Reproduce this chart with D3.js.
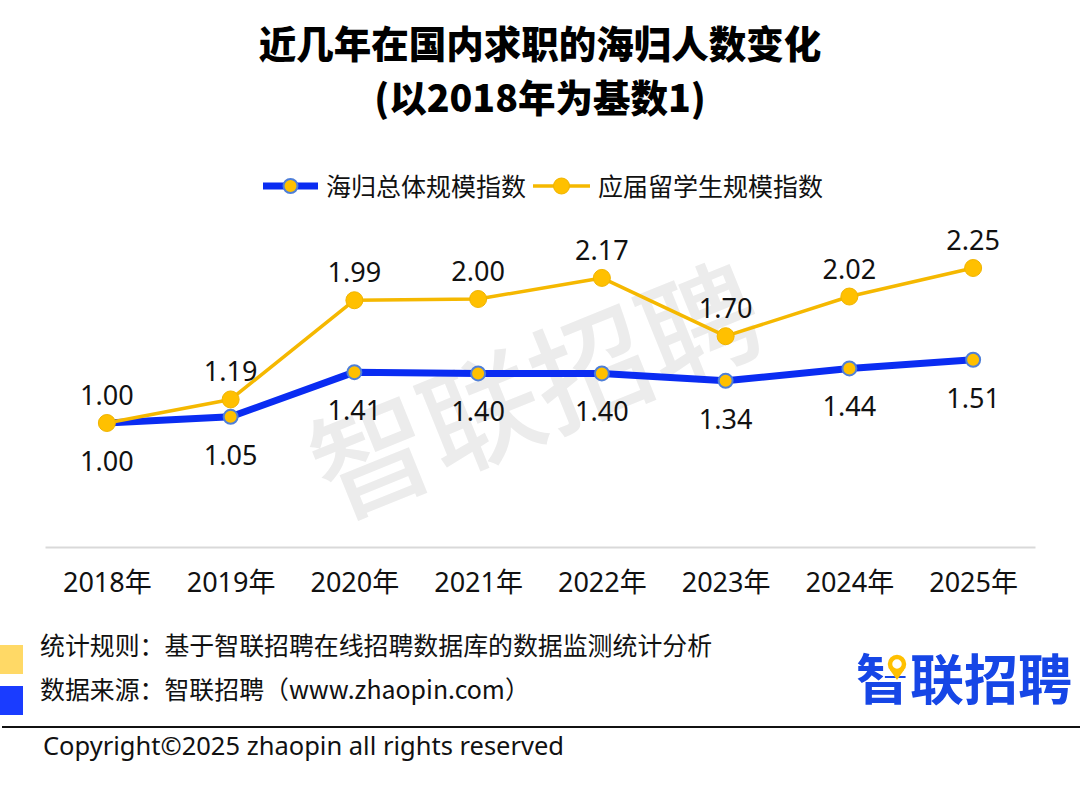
<!DOCTYPE html>
<html>
<head>
<meta charset="utf-8">
<script src="https://cdn.jsdelivr.net/npm/d3@7"></script>
<style>
  html, body { margin: 0; padding: 0; background: #fff; }
  svg { display: block; }
  text { font-family: "Noto Sans", "Noto Sans CJK SC", sans-serif; }
</style>
</head>
<body>
<svg id="chart" width="1080" height="789"></svg>
<script>
const titleLines = ["近几年在国内求职的海归人数变化", "(以2018年为基数1)"];
const years = ["2018年", "2019年", "2020年", "2021年", "2022年", "2023年", "2024年", "2025年"];
const seriesNames = ["海归总体规模指数", "应届留学生规模指数"];
const overallIndex = [1.00, 1.05, 1.41, 1.40, 1.40, 1.34, 1.44, 1.51];
const graduateIndex = [1.00, 1.19, 1.99, 2.00, 2.17, 1.70, 2.02, 2.25];
const footnotes = ["统计规则：基于智联招聘在线招聘数据库的数据监测统计分析", "数据来源：智联招聘（www.zhaopin.com）"];
const copyright = "Copyright©2025 zhaopin all rights reserved";
const brand = "智联招聘";

const W = 1080, H = 789;
const svg = d3.select("#chart");

const BLUE = "#0a2cf2", YELLOW = "#f5b800", MARK = "#ffc000";

// Title
svg.selectAll("text.title").data(titleLines).join("text")
  .attr("class", "title")
  .attr("x", W / 2)
  .attr("y", (d, i) => 58 + i * 54)
  .attr("text-anchor", "middle")
  .style("font-family", "'Noto Sans CJK SC', sans-serif")
  .style("font-weight", 900)
  .style("font-size", "37.5px")
  .attr("fill", "#000")
  .text(d => d);

// Scales
const x = d3.scalePoint().domain(years).range([45, 1035]).padding(0.5);
const y = d3.scaleLinear().domain([0, 2.5]).range([547, 237]);

// Watermark
svg.append("text")
  .attr("transform", "translate(536,390) rotate(-22)")
  .attr("text-anchor", "middle")
  .attr("dy", "0.38em")
  .style("font-family", "'Noto Sans CJK SC', sans-serif")
  .style("font-weight", 500)
  .style("font-size", "118px")
  .attr("fill", "#ececec")
  .text(brand);

// Axis
const axis = svg.append("g")
  .attr("transform", `translate(0,${y(0)})`)
  .call(d3.axisBottom(x).tickSize(0).tickPadding(26));
axis.select(".domain").attr("stroke", "#d9d9d9").attr("stroke-width", 2);
axis.selectAll(".tick text")
  .style("font-family", "'Noto Sans', 'Noto Sans CJK SC', sans-serif")
  .style("font-size", "27px")
  .attr("fill", "#111");

// Lines
const line = d3.line().x((d, i) => x(years[i])).y(d => y(d));

svg.append("path").datum(overallIndex)
  .attr("d", line).attr("fill", "none")
  .attr("stroke", BLUE).attr("stroke-width", 7)
  .attr("stroke-linejoin", "round");

svg.append("g").selectAll("circle").data(overallIndex).join("circle")
  .attr("cx", (d, i) => x(years[i])).attr("cy", d => y(d))
  .attr("r", 7).attr("fill", MARK)
  .attr("stroke", "#4f7fd8").attr("stroke-width", 2);

svg.append("path").datum(graduateIndex)
  .attr("d", line).attr("fill", "none")
  .attr("stroke", YELLOW).attr("stroke-width", 3.5)
  .attr("stroke-linejoin", "round");

svg.append("g").selectAll("circle").data(graduateIndex).join("circle")
  .attr("cx", (d, i) => x(years[i])).attr("cy", d => y(d))
  .attr("r", 8.5).attr("fill", MARK)
  .attr("stroke", "#f0b400").attr("stroke-width", 1);

// Data labels
svg.append("g").selectAll("text").data(graduateIndex).join("text")
  .attr("x", (d, i) => x(years[i])).attr("y", d => y(d) - 18)
  .attr("text-anchor", "middle")
  .style("font-size", "27px").attr("fill", "#111")
  .text(d => d.toFixed(2));

svg.append("g").selectAll("text").data(overallIndex).join("text")
  .attr("x", (d, i) => x(years[i])).attr("y", d => y(d) + 48)
  .attr("text-anchor", "middle")
  .style("font-size", "27px").attr("fill", "#111")
  .text(d => d.toFixed(2));

// Legend
const legend = [
  { name: seriesNames[0], color: BLUE, width: 7, x0: 263, x1: 318, r: 7, stroke: "#4f7fd8", sw: 2 },
  { name: seriesNames[1], color: YELLOW, width: 3.5, x0: 533, x1: 590, r: 8, stroke: "#f0b400", sw: 1 }
];
const lg = svg.append("g").selectAll("g").data(legend).join("g");
lg.append("line")
  .attr("x1", d => d.x0).attr("x2", d => d.x1).attr("y1", 186).attr("y2", 186)
  .attr("stroke", d => d.color).attr("stroke-width", d => d.width);
lg.append("circle")
  .attr("cx", d => (d.x0 + d.x1) / 2).attr("cy", 186).attr("r", d => d.r)
  .attr("fill", MARK).attr("stroke", d => d.stroke).attr("stroke-width", d => d.sw);
lg.append("text")
  .attr("x", d => d.x1 + 8).attr("y", 195.5)
  .style("font-family", "'Noto Sans CJK SC', sans-serif")
  .style("font-size", "25px").attr("fill", "#111")
  .text(d => d.name);

// Footer
const swatches = ["#ffd966", "#1a3cff"];
svg.append("g").selectAll("rect").data(swatches).join("rect")
  .attr("x", 0).attr("y", (d, i) => 645 + i * 41)
  .attr("width", 23).attr("height", 29).attr("fill", d => d);

svg.append("g").selectAll("text").data(footnotes).join("text")
  .attr("x", 40).attr("y", (d, i) => 655 + i * 44)
  .style("font-family", "'Noto Sans CJK SC', sans-serif")
  .style("font-size", "24.9px").attr("fill", "#111")
  .text(d => d);

svg.append("line").attr("x1", 2).attr("x2", W).attr("y1", 727).attr("y2", 727)
  .attr("stroke", "#111").attr("stroke-width", 2);

svg.append("text").attr("x", 43).attr("y", 755)
  .style("font-size", "25.5px").attr("fill", "#111")
  .text(copyright);

// Brand logo
const logo = svg.append("g");
logo.append("text").attr("x", 856).attr("y", 700)
  .style("font-family", "'Noto Sans CJK SC', sans-serif")
  .style("font-weight", 700).style("font-size", "54px")
  .attr("fill", "#1646e6")
  .text(brand);
// location pin replacing the top-right part of the first glyph
logo.append("rect").attr("x", 884).attr("y", 651).attr("width", 25).attr("height", 25).attr("fill", "#fff");
logo.append("path")
  .attr("d", "M897,680 L890,670 L904,670 Z")
  .attr("fill", "#ffc000");
logo.append("circle").attr("cx", 897).attr("cy", 664).attr("r", 7)
  .attr("fill", "#fff").attr("stroke", "#ffc000").attr("stroke-width", 4.5);
</script>
</body>
</html>
